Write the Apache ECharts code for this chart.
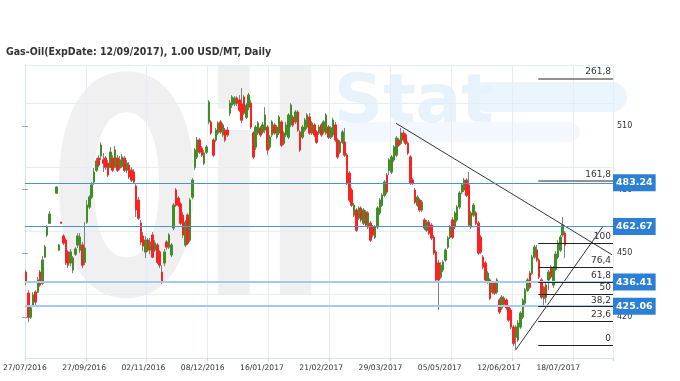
<!DOCTYPE html>
<html><head><meta charset="utf-8">
<script src="https://cdn.jsdelivr.net/npm/echarts@6/dist/echarts.min.js"></script>
<style>html,body{margin:0;padding:0;background:#fff}#c{width:680px;height:381px}</style>
</head><body><div id="c"></div>
<script>
// ---- data (one entry per trading-day slot; null = no quote) ----
const opens = [
441.1,431.2,419.9,425.6,431.7,431.7,441.1,435.9,448.2,458.6,
464.2,null,null,478.4,451.5,464.7,458.1,456.2,450.6,445.4,
442.1,449.6,453.9,451.5,453.9,445.8,464.7,471.8,476.5,483.6,
489.2,494.9,495.9,494.0,494.9,492.5,490.6,494.9,490.6,494.9,
490.2,491.1,494.9,489.2,491.6,489.2,488.3,481.7,475.1,464.2,
458.1,450.6,456.2,451.5,458.6,451.5,453.9,450.6,441.1,445.4,
455.3,452.9,449.2,461.9,479.8,476.0,473.2,468.0,453.9,468.0,
456.2,476.5,490.6,495.4,503.4,499.6,492.5,497.7,511.9,511.9,
503.4,503.4,506.7,511.9,505.8,508.1,508.1,516.1,519.9,520.4,
523.2,522.3,520.4,523.7,514.2,518.9,520.8,506.7,500.1,506.7,
509.1,507.2,508.1,509.5,500.1,505.8,510.5,504.8,506.7,511.9,
501.9,505.8,504.8,510.5,514.2,511.9,516.6,507.2,504.8,508.1,
509.5,514.2,506.7,510.5,507.2,506.7,510.5,507.2,506.7,509.5,
504.8,505.8,510.5,503.4,497.7,502.4,502.4,496.3,487.8,479.8,
468.0,470.4,466.6,471.3,464.2,469.4,462.4,464.2,462.4,457.6,
462.4,469.0,472.7,477.4,486.9,489.2,488.3,494.0,496.3,503.4,
501.9,506.7,505.8,501.9,495.4,484.5,479.8,472.7,475.1,470.4,
465.7,460.9,464.7,463.3,457.6,450.6,445.4,438.8,442.1,446.8,
452.9,457.6,465.7,462.4,465.7,471.8,478.9,479.8,484.5,482.2,
462.4,468.0,469.0,464.2,457.6,448.2,445.4,436.4,437.4,431.7,
435.9,431.7,427.9,424.2,428.8,427.9,424.6,423.2,415.2,410.4,
409.1,415.2,419.9,426.5,432.6,440.6,440.6,448.2,451.5,446.8,
437.4,428.8,435.0,437.4,443.5,435.0,442.5,448.2,451.5,458.6,
459.5];
const closes = [
436.4,419.9,424.2,430.3,427.0,437.4,435.0,446.8,452.9,462.4,
468.5,null,null,481.2,453.9,464.2,454.8,445.4,444.4,450.6,
447.7,452.0,458.1,457.6,444.4,452.4,472.7,476.5,482.2,488.3,
493.5,491.6,501.0,492.5,490.6,486.9,497.7,489.2,498.7,489.2,
494.0,495.4,489.2,492.5,486.0,484.5,483.6,470.4,466.6,455.3,
453.4,456.2,451.5,455.3,448.2,454.8,445.8,444.4,436.4,450.6,
452.9,458.6,453.9,472.7,472.7,472.7,464.2,458.6,464.7,454.8,
475.1,484.5,498.7,503.4,497.7,496.3,497.3,500.1,521.3,506.7,
496.3,508.1,511.4,507.2,510.5,503.4,505.8,520.8,523.7,523.2,
520.8,517.5,512.8,516.1,519.9,524.6,509.5,495.4,509.5,511.4,
505.8,510.5,515.2,498.7,504.8,511.9,506.7,509.5,514.2,501.0,
506.7,510.5,515.2,519.9,510.5,516.6,508.1,498.7,509.5,512.8,
515.2,506.7,511.4,505.8,502.4,509.5,505.8,511.9,515.2,504.8,
509.1,512.8,503.4,495.4,502.4,507.2,496.3,483.1,475.1,472.7,
472.7,460.9,471.3,465.7,470.4,463.3,469.0,456.2,458.6,462.4,
471.3,475.1,477.4,483.6,478.9,494.0,495.4,500.1,504.3,501.0,
506.7,503.4,501.9,497.3,483.1,483.1,474.1,476.5,470.4,474.1,
461.9,464.7,459.5,457.2,450.1,437.4,437.4,444.4,445.8,451.5,
457.2,462.4,457.6,469.0,471.8,478.4,482.2,484.5,477.4,463.3,
469.0,472.7,464.2,450.1,450.6,443.5,437.4,440.6,428.8,435.9,
431.2,437.4,422.3,429.3,426.0,424.2,418.5,415.2,407.6,415.2,
417.1,421.8,427.9,432.6,437.4,434.0,448.2,452.9,446.8,438.8,
429.3,433.9,429.3,441.1,438.8,443.0,449.6,454.8,457.6,463.3,
453.9];
const lows = [
435.0,417.5,419.0,424.6,425.6,431.2,434.0,435.0,447.7,457.6,
463.8,null,null,477.9,451.0,464.2,453.9,444.4,443.0,443.9,
440.6,448.7,452.4,450.1,443.0,444.4,463.8,470.8,475.5,482.2,
488.3,490.6,494.0,488.3,489.2,485.9,490.2,488.3,490.2,488.3,
489.2,490.2,488.3,487.8,485.0,483.6,482.6,467.1,465.7,453.9,
451.0,447.7,450.6,449.6,447.7,450.6,444.9,443.0,435.5,443.9,
451.5,452.0,448.2,460.9,471.8,471.8,463.3,457.2,452.9,453.9,
455.3,475.5,489.2,494.4,496.8,495.4,491.6,496.8,510.9,505.8,
495.4,502.4,505.8,506.2,504.8,502.4,504.8,514.7,518.5,519.4,
519.4,516.6,511.4,515.2,513.3,517.5,508.6,494.4,498.7,505.8,
504.8,506.2,506.7,496.3,499.1,504.8,505.8,503.9,505.8,500.1,
501.0,504.8,503.9,509.5,509.5,510.9,507.2,497.7,503.9,507.2,
508.6,505.8,505.8,504.8,501.5,505.8,504.8,506.2,505.8,503.9,
503.9,504.8,502.4,494.4,496.8,501.5,495.4,482.2,474.1,471.8,
467.1,460.0,465.7,464.7,463.3,462.4,461.4,455.3,457.6,456.7,
461.4,468.0,471.8,476.5,477.9,486.9,487.3,493.0,495.4,500.1,
501.0,502.4,501.0,496.3,482.2,482.2,473.2,471.8,469.4,469.4,
460.9,460.0,458.6,456.2,449.2,436.4,423.2,437.8,441.1,445.8,
452.0,456.7,456.7,461.4,464.7,470.8,477.9,478.9,476.5,462.4,
461.4,467.1,463.3,449.2,449.6,442.5,436.4,435.5,427.9,430.7,
430.3,430.7,421.3,423.2,425.1,423.2,417.6,414.2,406.2,404.8,
408.1,414.2,419.0,425.6,431.7,433.1,439.7,447.3,445.8,437.8,
428.3,425.1,426.5,432.6,437.8,433.6,441.6,447.3,450.6,457.6,
447.7];
const highs = [
442.1,432.6,425.6,431.7,432.6,438.8,442.1,448.7,453.9,463.3,
469.9,null,null,481.7,454.4,464.7,459.0,457.2,451.5,452.0,
448.7,452.9,459.5,459.5,455.3,464.7,475.1,477.4,483.6,490.2,
494.9,496.3,502.4,497.3,495.9,494.0,500.1,496.3,500.6,496.3,
495.9,496.8,495.9,494.0,493.0,490.6,489.7,482.6,476.5,465.7,
460.0,458.1,457.2,457.2,460.0,456.2,454.8,451.5,444.4,452.0,
456.2,459.5,454.8,473.7,480.8,477.0,474.1,469.4,465.7,468.9,
476.0,485.5,499.6,504.8,504.3,500.6,498.7,501.0,522.3,512.8,
504.3,509.1,512.3,512.8,511.4,509.1,509.5,522.3,524.6,524.1,
524.1,524.6,527.9,524.6,520.8,525.6,522.3,507.6,510.5,512.3,
510.0,511.9,518.9,510.5,505.8,512.8,511.4,510.5,515.2,512.8,
507.6,511.9,516.1,520.8,515.2,517.5,517.5,508.1,510.5,513.8,
516.1,516.1,512.3,511.4,508.1,510.5,511.4,512.8,516.1,510.5,
510.0,513.8,511.9,504.3,503.4,508.1,509.1,497.3,488.8,480.8,
473.7,471.3,472.2,472.2,471.3,470.4,469.9,465.2,463.3,463.3,
472.2,476.0,478.4,484.5,487.8,494.9,496.3,501.0,505.3,504.3,
509.1,508.1,506.7,502.9,496.3,485.5,480.8,477.4,476.0,475.1,
466.6,465.7,465.7,464.2,458.6,451.5,446.8,445.8,446.8,452.4,
458.1,463.3,467.1,469.9,472.7,479.3,483.1,485.5,485.5,488.3,
469.9,473.7,469.9,465.2,458.6,449.2,446.3,441.6,438.3,436.9,
436.9,438.3,428.8,430.3,429.8,428.8,425.6,424.2,416.1,416.1,
418.5,422.7,428.8,433.6,438.3,441.6,449.2,453.9,453.9,447.7,
438.3,434.5,435.9,442.1,444.4,444.0,451.0,456.2,458.6,467.1,
460.4];

const slotCount = 251;            // trading-day slots on the x axis (incl. empty future space)
const slotsPerLabel = 26;
const dateLabels = ['27/07/2016','27/09/2016','02/11/2016','08/12/2016','16/01/2017',
                    '21/02/2017','29/03/2017','05/05/2017','12/06/2017','18/07/2017'];
const yTicks = [420, 450, 480, 510];
const priceLevels = [483.24, 462.67, 436.41, 425.06];
const fibLabels = ['0','23,6','38,2','50','61,8','76,4','100','161,8','261,8'];
const fibValues = [406.7, 418.0, 424.8, 430.6, 436.5, 443.3, 454.6, 484.2, 532.5];
const fibFromSlot = 219.1, fibToSlot = 251;
const downTrend = [[158.4, 511.3], [250.6, 449.3]];
const upTrend = [[209.4, 404.3], [246.8, 462.8]];

const yMin = 400.6, yMax = 538.8;

// ---- build ----
const slots = []; for (let i = 0; i < slotCount; i++) slots.push(i);
const labelSlots = []; for (let i = 0; i < 259; i++) labelSlots.push(i);
const ohlc = opens.map((o, i) => o == null ? '-' : [o, closes[i], lows[i], highs[i]]);
const bodies = opens.map((o, i) => o == null ? '-' : [o, closes[i], Math.min(o, closes[i]), Math.max(o, closes[i])]);

const GREEN = '#3f8f25', RED = '#ff2020', WICK = '#808080';
const GRID = '#e3edf7';

const chart = echarts.init(document.getElementById('c'));
chart.setOption({
  animation: false,
  backgroundColor: '#fff',
  title: {
    text: 'Gas-Oil(ExpDate: 12/09/2017), 1.00 USD/MT, Daily',
    left: 1, top: 42,
    textStyle: { fontFamily: 'DejaVu Sans Condensed', fontWeight: 'bold', fontSize: 10.5, color: '#333' }
  },
  graphic: { elements: [
    { type: 'text', z: -10, silent: true, left: 50, top: 66, scaleX: 0.6,
      style: { text: 'Oil', fontFamily: 'DejaVu Sans', fontWeight: 'bold', fontSize: 300, fill: '#f0f0f0' } },
    { type: 'rect', z: -10, silent: true, shape: { x: 470, y: 82, width: 157, height: 30, r: 15 },
      style: { fill: '#edf5fc' } },
    { type: 'rect', z: -10, silent: true, shape: { x: 330, y: 122, width: 250, height: 20, r: 10 },
      style: { fill: '#f2f8fd' } },
    { type: 'text', z: -10, silent: true, left: 334, top: 70,
      style: { text: 'Stat', fontFamily: 'DejaVu Sans', fontWeight: 'bold', fontSize: 68, fill: '#e8f2fb' } }
  ]},
  grid: { left: 22, right: 67, top: 65, bottom: 23, containLabel: false },
  xAxis: [
    { type: 'category', data: slots, boundaryGap: true,
      axisLine: { show: true, lineStyle: { color: '#d5e4f2' } },
      axisTick: { show: true, interval: slotsPerLabel - 1, length: 3, lineStyle: { color: '#c8d8e8' } },
      axisLabel: { show: false },
      splitLine: { show: true, interval: slotsPerLabel - 1, lineStyle: { color: GRID } } },
    { type: 'category', data: labelSlots, boundaryGap: false, position: 'bottom',
      axisLine: { show: false }, axisTick: { show: false }, splitLine: { show: false },
      axisLabel: { show: true, interval: 0, margin: 6, fontSize: 7.6, color: '#333',
        fontFamily: 'DejaVu Sans', showMinLabel: true, showMaxLabel: false,
        formatter: (v, idx) => (idx % slotsPerLabel === 0 && dateLabels[idx / slotsPerLabel]) ? dateLabels[idx / slotsPerLabel] : '' } },
    { type: 'value', min: 0, max: slotCount, show: false }
  ],
  yAxis: [
    { type: 'value', position: 'right', min: yMin, max: yMax, scale: true,
      axisLine: { show: true, lineStyle: { color: '#d5e4f2' } },
      axisTick: { show: true, customValues: yTicks, length: 3, lineStyle: { color: '#999' } },
      axisLabel: { show: true, customValues: yTicks, fontSize: 8, color: '#333', margin: 4, fontFamily: 'DejaVu Sans' },
      splitLine: { show: false } },
    { type: 'value', position: 'left', min: yMin, max: yMax,
      axisLine: { show: true, lineStyle: { color: '#d5e4f2' } },
      axisTick: { show: true, customValues: yTicks, length: 3, lineStyle: { color: '#aaa' } },
      axisLabel: { show: false }, splitLine: { show: false } },
    { type: 'value', position: 'left', min: 0, max: yMax - yMin, interval: 30,
      axisLine: { show: false }, axisTick: { show: false }, axisLabel: { show: false },
      splitLine: { show: true, lineStyle: { color: GRID } } }
  ],
  series: [
    { type: 'line', xAxisIndex: 0, yAxisIndex: 0, data: [], silent: true,
      markLine: { symbol: 'none', silent: true,
        data: priceLevels.map((v, k) => ({ yAxis: v,
          lineStyle: k < 2 ? { color: '#4a92dc', width: 1, type: 'solid' } : { color: '#a3c9ee', width: 2, type: 'solid' } })),
        label: { show: true, position: 'end', distance: 0, formatter: p => p.value.toFixed(2),
          backgroundColor: '#2b80d5', color: '#fff', fontWeight: 'bold', fontSize: 9.5,
          fontFamily: 'DejaVu Sans', padding: [4, 3, 3, 3] } } },
    { type: 'candlestick', name: 'wick', xAxisIndex: 0, yAxisIndex: 0, data: ohlc, barWidth: 2, silent: true,
      itemStyle: { color: GREEN, color0: RED, borderColor: WICK, borderColor0: WICK, borderWidth: 1 } },
    { type: 'candlestick', name: 'body', xAxisIndex: 0, yAxisIndex: 0, data: bodies, barWidth: 2, silent: true,
      itemStyle: { color: GREEN, color0: RED, borderColor: GREEN, borderColor0: RED, borderWidth: 1 } },
    { type: 'line', xAxisIndex: 2, yAxisIndex: 0, data: [], silent: true,
      markLine: { symbol: 'none', silent: true,
        data: fibValues.map((v, k) => [
          { coord: [fibFromSlot, v], name: fibLabels[k],
            lineStyle: { color: k >= 7 ? '#6e6e6e' : '#222', width: k >= 7 ? 1.5 : 1, type: 'solid' } },
          { coord: [fibToSlot, v] } ]),
        label: { show: true, position: 'insideEndTop', formatter: p => p.name, color: '#333',
          fontSize: 9, fontFamily: 'DejaVu Sans', distance: [2, 2] } } },
    { type: 'line', xAxisIndex: 2, yAxisIndex: 0, data: downTrend, symbol: 'none', silent: true,
      lineStyle: { color: '#333', width: 1 } },
    { type: 'line', xAxisIndex: 2, yAxisIndex: 0, data: upTrend, symbol: 'none', silent: true,
      lineStyle: { color: '#333', width: 1 } }
  ]
});
</script></body></html>
